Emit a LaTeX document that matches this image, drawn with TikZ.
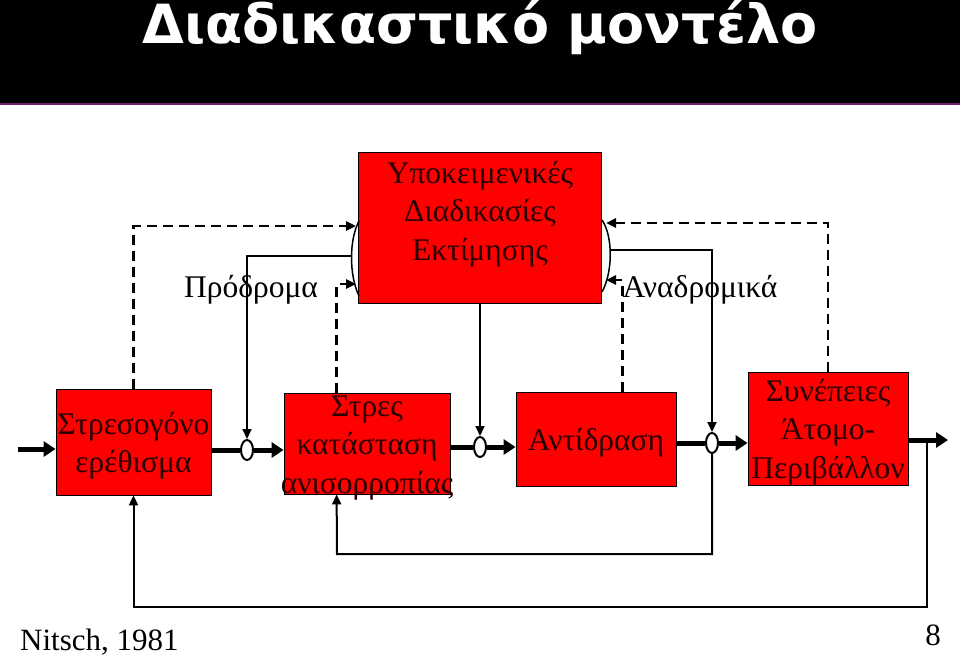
\documentclass[tikz,border=0pt]{standalone}
\usepackage{fontspec}
\setmainfont{Liberation Serif}
\newfontfamily\titlefont{DejaVu Sans}
\usetikzlibrary{arrows.meta,shapes.geometric,calc}
\definecolor{boxred}{RGB}{255,0,0}
\definecolor{txtdark}{RGB}{40,0,0}
\definecolor{hdrline}{RGB}{110,30,110}
\begin{document}
\begin{tikzpicture}[x=1pt,y=-1pt,
 box/.style={draw=black,line width=0.8pt,fill=boxred,inner sep=0pt},
 boxtext/.style={text=txtdark,font=\fontsize{31.5}{38.5}\selectfont,align=center,inner sep=0pt},
 junc/.style={ellipse,draw=black,line width=2pt,fill=white,minimum width=12pt,minimum height=20pt,inner sep=0pt},
 mainline/.style={line width=5pt},
 mainarrow/.style={line width=5pt,-{Triangle[length=12pt,width=15pt]}},
 thinarrow/.style={line width=2pt,-{Triangle[length=10pt,width=9pt]}},
 dashline/.style={line width=2.5pt,dash pattern=on 10pt off 6pt,-{Triangle[length=10pt,width=9pt]}},
 bracket/.style={line width=1.5pt},
 lbl/.style={font=\fontsize{31.5}{35}\selectfont,text=black,inner sep=0pt}
]
\useasboundingbox (0,0) rectangle (960,656);
\fill[white] (0,0) rectangle (960,656);
% header
\fill[black] (0,0) rectangle (960,103);
\draw[hdrline,line width=1.5pt] (0,104) -- (960,104);
\node[font=\titlefont\bfseries\fontsize{54}{60}\selectfont,text=white,anchor=base,inner sep=0pt] (title) at (480,43) {Διαδικαστικό μοντέλο};

% boxes
\node[box,minimum width=243pt,minimum height=151pt] (top) at (480,227.5) {};
\node[boxtext] (topt) at (480,214) {Υποκειμενικές\\Διαδικασίες\\Εκτίμησης};
\node[box,minimum width=155pt,minimum height=106pt] (s1) at (133.5,442) {};
\node[boxtext] (s1t) at (133.5,446) {Στρεσογόνο\\ερέθισμα};
\node[box,minimum width=166pt,minimum height=101pt] (s2) at (367,443.5) {};
\node[boxtext] (s2t) at (367,448) {Στρες\\κατάσταση\\ανισορροπίας};
\node[box,minimum width=160pt,minimum height=94pt] (s3) at (596,439) {};
\node[boxtext] (s3t) at (596,443) {Αντίδραση};
\node[box,minimum width=160pt,minimum height=113pt] (s4) at (828,428.5) {};
\node[boxtext] (s4t) at (828,432) {Συνέπειες\\Άτομο-\\Περιβάλλον};

% junctions
\node[junc] (c1) at (247,450) {};
\node[junc] (c2) at (480,447) {};
\node[junc] (c3) at (712,443) {};

\coordinate (in) at (18,449);
\coordinate (out) at (948,440);

% main flow
\draw[mainarrow] (in) -- (in -| s1.west);
\draw[mainline] (s1.east |- c1) -- (c1.west);
\draw[mainarrow] (c1.east) -- (c1 -| s2.west);
\draw[mainline] (s2.east |- c2) -- (c2.west);
\draw[mainarrow] (c2.east) -- (c2 -| s3.west);
\draw[mainline] (s3.east |- c3) -- (c3.west);
\draw[mainarrow] (c3.east) -- (c3 -| s4.west);
\draw[mainarrow] (s4.east |- out) -- (out);

% brackets on top box
\coordinate (aL1) at (356,226);
\coordinate (aL2) at (352,256);
\coordinate (aL3) at (356,284);
\coordinate (aR1) at (606,223);
\coordinate (aR2) at (610,250);
\coordinate (aR3) at (606,280);
\draw[bracket] (359,221) .. controls (349,240) and (349,275) .. (359,296);
\draw[bracket] (602,220) .. controls (613,236) and (613,272) .. (602,292);

% top connectors
\draw[dashline] (s1.north) |- (aL1);
\draw[thinarrow] (aL2) -| (c1.north);
\draw[dashline] ($(s2.north west)+(53,0)$) |- (aL3);
\draw[thinarrow] (top.south) -- (c2.north);
\draw[dashline] (s4.north) |- (aR1);
\draw[thinarrow] (aR2) -| (c3.north);
\draw[dashline] ($(s3.north west)+(107,0)$) |- (aR3);

% feedback loops
\coordinate (f1) at (927,440);
\coordinate (fb1) at (133.5,607);
\coordinate (fb2) at (337,554);
\draw[thinarrow] (f1) |- (fb1) -- (s1.south);
\draw[thinarrow] (c3.south) |- (fb2) -- ($(s2.south west)+(53,0)$);

% labels
\node[lbl] (pro) at (251,290) {Πρόδρομα};
\node[lbl] (ana) at (700,290) {Αναδρομικά};

% footer
\node[font=\fontsize{31}{34}\selectfont,anchor=base west,inner sep=0pt] (cite) at (20,650) {Nitsch, 1981};
\node[font=\fontsize{31}{34}\selectfont,anchor=base east,inner sep=0pt] (pg) at (941,645) {8};
\end{tikzpicture}
\end{document}
